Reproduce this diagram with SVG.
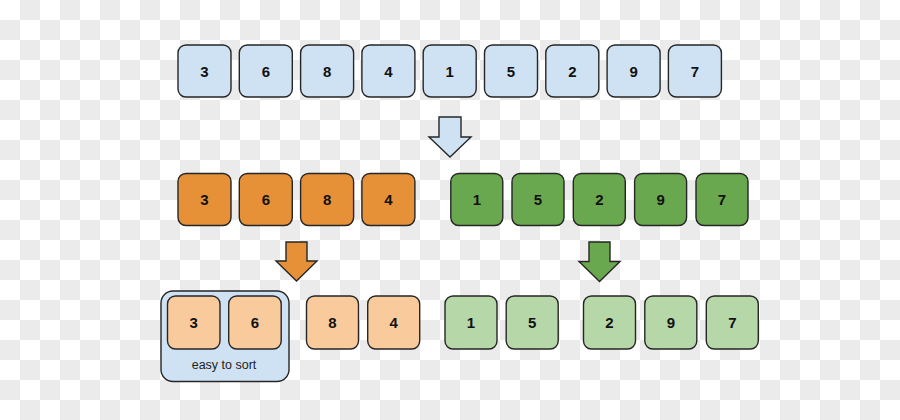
<svg xmlns="http://www.w3.org/2000/svg" width="900" height="420" viewBox="0 0 900 420">
<defs>
<pattern id="checker" x="0" y="0" width="40" height="40" patternUnits="userSpaceOnUse">
<rect width="40" height="40" fill="#ffffff"/>
<rect x="20" y="0" width="20" height="20" fill="#ebebeb"/>
<rect x="0" y="20" width="20" height="20" fill="#ebebeb"/>
</pattern>
<style>
.box{stroke:#262626;stroke-width:1.4}
.blue{fill:#cfe2f3}
.orange{fill:#e69138}
.green{fill:#6aa84f}
.lorange{fill:#f9cb9c}
.lgreen{fill:#b6d7a8}
.num{font-family:"Liberation Sans",Arial,sans-serif;font-weight:bold;font-size:15px;fill:#111;text-anchor:middle}
.lbl{font-family:"Liberation Sans",Arial,sans-serif;font-size:12.5px;fill:#222;text-anchor:middle}
.arrow{stroke:#262626;stroke-width:1.4;stroke-linejoin:miter}
</style>
</defs>
<rect width="900" height="420" fill="url(#checker)"/>

<g id="row1">
<g id="r1-3"><rect class="box blue" x="178" y="45" width="53" height="52" rx="8"/><text class="num" x="204.5" y="76.5">3</text></g>
<g id="r1-6"><rect class="box blue" x="239.3" y="45" width="53" height="52" rx="8"/><text class="num" x="265.8" y="76.5">6</text></g>
<g id="r1-8"><rect class="box blue" x="300.6" y="45" width="53" height="52" rx="8"/><text class="num" x="327.1" y="76.5">8</text></g>
<g id="r1-4"><rect class="box blue" x="361.9" y="45" width="53" height="52" rx="8"/><text class="num" x="388.4" y="76.5">4</text></g>
<g id="r1-1"><rect class="box blue" x="423.2" y="45" width="53" height="52" rx="8"/><text class="num" x="449.7" y="76.5">1</text></g>
<g id="r1-5"><rect class="box blue" x="484.5" y="45" width="53" height="52" rx="8"/><text class="num" x="511" y="76.5">5</text></g>
<g id="r1-2"><rect class="box blue" x="545.8" y="45" width="53" height="52" rx="8"/><text class="num" x="572.3" y="76.5">2</text></g>
<g id="r1-9"><rect class="box blue" x="607.1" y="45" width="53" height="52" rx="8"/><text class="num" x="633.6" y="76.5">9</text></g>
<g id="r1-7"><rect class="box blue" x="668.4" y="45" width="53" height="52" rx="8"/><text class="num" x="694.9" y="76.5">7</text></g>
</g>

<g id="row2-left">
<g id="r2-3"><rect class="box orange" x="178" y="173.5" width="53" height="52" rx="8"/><text class="num" x="204.5" y="205">3</text></g>
<g id="r2-6"><rect class="box orange" x="239.3" y="173.5" width="53" height="52" rx="8"/><text class="num" x="265.8" y="205">6</text></g>
<g id="r2-8"><rect class="box orange" x="300.6" y="173.5" width="53" height="52" rx="8"/><text class="num" x="327.1" y="205">8</text></g>
<g id="r2-4"><rect class="box orange" x="361.9" y="173.5" width="53" height="52" rx="8"/><text class="num" x="388.4" y="205">4</text></g>
</g>

<g id="row2-right">
<g id="r2-1"><rect class="box green" x="450.8" y="173.5" width="52" height="52" rx="8"/><text class="num" x="476.8" y="205">1</text></g>
<g id="r2-5"><rect class="box green" x="512" y="173.5" width="52" height="52" rx="8"/><text class="num" x="538" y="205">5</text></g>
<g id="r2-2"><rect class="box green" x="573.3" y="173.5" width="52" height="52" rx="8"/><text class="num" x="599.3" y="205">2</text></g>
<g id="r2-9"><rect class="box green" x="634.6" y="173.5" width="52" height="52" rx="8"/><text class="num" x="660.6" y="205">9</text></g>
<g id="r2-7"><rect class="box green" x="696" y="173.5" width="52" height="52" rx="8"/><text class="num" x="722" y="205">7</text></g>
</g>

<g id="easy-group">
<rect class="box blue" x="161" y="291" width="128" height="90.5" rx="12"/>
<text class="lbl" x="224" y="369">easy to sort</text>
</g>

<g id="row3-left">
<g id="r3-3"><rect class="box lorange" x="167.5" y="296" width="52.5" height="53" rx="8"/><text class="num" x="193.7" y="328">3</text></g>
<g id="r3-6"><rect class="box lorange" x="228.7" y="296" width="52.5" height="53" rx="8"/><text class="num" x="255" y="328">6</text></g>
<g id="r3-8"><rect class="box lorange" x="306.5" y="296" width="52" height="53" rx="8"/><text class="num" x="332.5" y="328">8</text></g>
<g id="r3-4"><rect class="box lorange" x="367.7" y="296" width="52" height="53" rx="8"/><text class="num" x="393.7" y="328">4</text></g>
</g>

<g id="row3-right">
<g id="r3-1"><rect class="box lgreen" x="445" y="296" width="52" height="53" rx="8"/><text class="num" x="471" y="328">1</text></g>
<g id="r3-5"><rect class="box lgreen" x="506.2" y="296" width="52" height="53" rx="8"/><text class="num" x="532.2" y="328">5</text></g>
<g id="r3-2"><rect class="box lgreen" x="583.5" y="296" width="52" height="53" rx="8"/><text class="num" x="609.5" y="328">2</text></g>
<g id="r3-9"><rect class="box lgreen" x="644.8" y="296" width="52" height="53" rx="8"/><text class="num" x="670.8" y="328">9</text></g>
<g id="r3-7"><rect class="box lgreen" x="706.3" y="296" width="52" height="53" rx="8"/><text class="num" x="732.3" y="328">7</text></g>
</g>

<g id="connectors">
<polygon class="arrow" fill="#cfe2f3" points="439,117 461,117 461,137 471,137 450,157 429,137 439,137"/>
<polygon class="arrow" fill="#e69138" points="286,242 307,242 307,261 317,261 296.5,281 276,261 286,261"/>
<polygon class="arrow" fill="#6aa84f" points="589,242 610,242 610,261.5 620,261.5 599.5,281.5 579,261.5 589,261.5"/>
</g>
</svg>
